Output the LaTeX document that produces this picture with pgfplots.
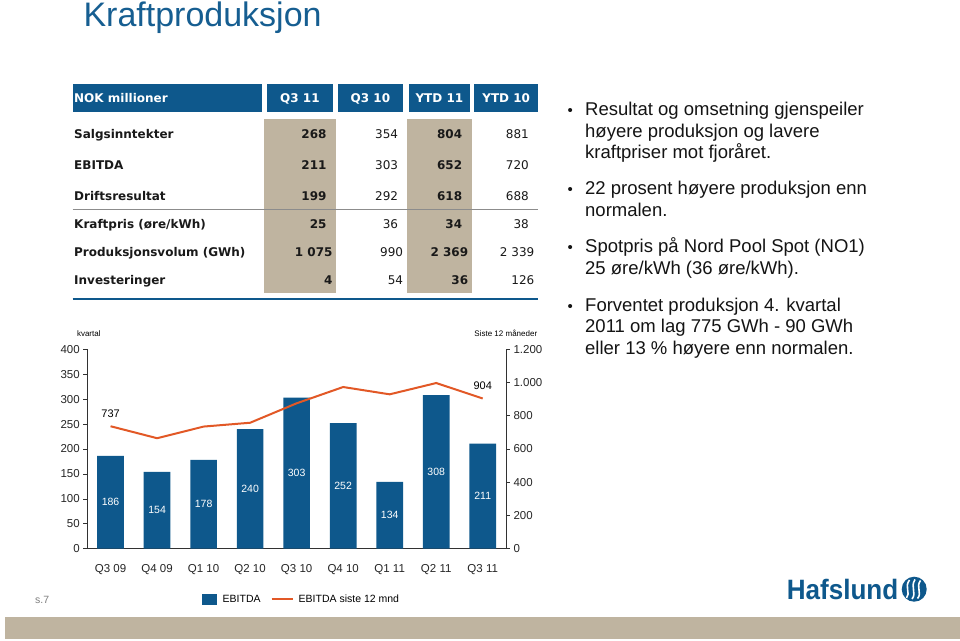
\documentclass[border=0pt]{standalone}
\usepackage{pgfplots}
\pgfplotsset{compat=1.18}
\usepackage{fontspec}
\setmainfont{Liberation Sans}
\newfontfamily\verd{DejaVu Sans}
\definecolor{hblue}{RGB}{14,88,140}
\definecolor{titleblue}{RGB}{22,94,145}
\definecolor{lineorange}{RGB}{226,88,38}
\definecolor{beige}{RGB}{191,180,160}
\definecolor{axisgray}{RGB}{50,50,50}
\begin{document}
\begin{tikzpicture}
\begin{scope}[x=1pt,y=1pt]
\useasboundingbox (0,0) rectangle (960,640);
\fill[white] (0,0) rectangle (960,640);
% title
\node[anchor=base west,inner sep=0,text=titleblue,font=\fontsize{34}{40}\selectfont] at (83.3,613.3) {Kraftproduksjon};
% table
\fill[beige] (264,521) rectangle (336,347);
\fill[beige] (406.7,521) rectangle (472,347);
\fill[hblue] (72.7,556) rectangle (262,527.7);
\fill[hblue] (266.7,556) rectangle (333,527.7);
\fill[hblue] (337.7,556) rectangle (403,527.7);
\fill[hblue] (408.7,556) rectangle (470,527.7);
\fill[hblue] (474.3,556) rectangle (538,527.7);
\draw[black!45, line width=0.6pt] (72.7,430.7) -- (538,430.7);
\draw[hblue, line width=2pt] (72.7,341) -- (538,341);
\begin{scope}[every node/.style={inner sep=0, font=\verd\fontsize{12}{14}\selectfont, text=black!90}]
\node[anchor=base west,text=white] at (74,537.3) {\bfseries NOK millioner};
\node[anchor=base,text=white] at (299.9,537.3) {\bfseries Q3 11};
\node[anchor=base,text=white] at (370.4,537.3) {\bfseries Q3 10};
\node[anchor=base,text=white] at (439.4,537.3) {\bfseries YTD 11};
\node[anchor=base,text=white] at (506.2,537.3) {\bfseries YTD 10};
% rows
\node[anchor=base west] at (74,501.6) {\bfseries Salgsinntekter};
\node[anchor=base east] at (326.7,501.6) {\bfseries 268};
\node[anchor=base east] at (398.3,501.6) {354};
\node[anchor=base east] at (462.3,501.6) {\bfseries 804};
\node[anchor=base east] at (529,501.6) {881};
\node[anchor=base west] at (74,470.6) {\bfseries EBITDA};
\node[anchor=base east] at (326.7,470.6) {\bfseries 211};
\node[anchor=base east] at (398.3,470.6) {303};
\node[anchor=base east] at (462.3,470.6) {\bfseries 652};
\node[anchor=base east] at (529,470.6) {720};
\node[anchor=base west] at (74,439.6) {\bfseries Driftsresultat};
\node[anchor=base east] at (326.7,439.6) {\bfseries 199};
\node[anchor=base east] at (398.3,439.6) {292};
\node[anchor=base east] at (462.3,439.6) {\bfseries 618};
\node[anchor=base east] at (529,439.6) {688};
\node[anchor=base west] at (74,411.6) {\bfseries Kraftpris (øre/kWh)};
\node[anchor=base east] at (326.7,411.6) {\bfseries 25};
\node[anchor=base east] at (398.3,411.6) {36};
\node[anchor=base east] at (462.3,411.6) {\bfseries 34};
\node[anchor=base east] at (529,411.6) {38};
\node[anchor=base west] at (74,383.6) {\bfseries Produksjonsvolum (GWh)};
\node[anchor=base east] at (332.7,383.6) {\bfseries 1 075};
\node[anchor=base east] at (403.3,383.6) {990};
\node[anchor=base east] at (468.3,383.6) {\bfseries 2 369};
\node[anchor=base east] at (534.5,383.6) {2 339};
\node[anchor=base west] at (74,355.6) {\bfseries Investeringer};
\node[anchor=base east] at (332.7,355.6) {\bfseries 4};
\node[anchor=base east] at (403.3,355.6) {54};
\node[anchor=base east] at (468.3,355.6) {\bfseries 36};
\node[anchor=base east] at (534.5,355.6) {126};
\end{scope}
% bullets
\begin{scope}[every node/.style={inner sep=0, anchor=base west, font=\fontsize{18.5}{22}\selectfont, text=black!92}]
\node at (567.5,524.5) {\fontsize{15}{18}\selectfont •};
\node at (585,524.5) {Resultat og omsetning gjenspeiler};
\node at (585,502.8) {høyere produksjon og lavere};
\node at (585,481.1) {kraftpriser mot fjoråret.};
\node at (567.5,445.2) {\fontsize{15}{18}\selectfont •};
\node at (585,445.2) {22 prosent høyere produksjon enn};
\node at (585,423.5) {normalen.};
\node at (567.5,387.2) {\fontsize{15}{18}\selectfont •};
\node at (585,387.2) {Spotpris på Nord Pool Spot (NO1)};
\node at (585,365.5) {25 øre/kWh (36 øre/kWh).};
\node at (567.5,328.8) {\fontsize{15}{18}\selectfont •};
\node at (585,328.8) {Forventet produksjon 4. kvartal};
\node at (585,307.1) {2011 om lag 775 GWh - 90 GWh};
\node at (585,285.4) {eller 13 \% høyere enn normalen.};
\end{scope}
% legend
\fill[hblue] (201.7,35.5) rectangle (216.7,46.5);
\node[anchor=west, inner sep=0, font=\fontsize{10.5}{12}\selectfont] at (222.5,41) {EBITDA};
\draw[lineorange, line width=2pt] (271.7,41) -- (293.3,41);
\node[anchor=west, inner sep=0, font=\fontsize{10.5}{12}\selectfont] at (298.5,41) {EBITDA siste 12 mnd};
% footer
\node[anchor=west, inner sep=0, text=black!50, font=\fontsize{10.5}{12}\selectfont] at (35,40) {s.7};
\fill[beige] (5,1) rectangle (960,23.3);
% logo
\node[anchor=base west, inner sep=0, text=hblue, font=\bfseries\fontsize{28}{32}\selectfont] at (786.7,40.7) {\scalebox{0.93}[1]{Hafslund}};
\fill[hblue] (914.2,50.8) circle (12.5);
\draw[white, line width=1.6pt] (906.5,42) .. controls (911,47) and (904,53) .. (909.5,60);
\draw[white, line width=1.6pt] (912,41) .. controls (917,47) and (910,53) .. (915,60.5);
\draw[white, line width=1.6pt] (917.5,41.5) .. controls (922.5,47) and (915.5,53) .. (920.5,59.5);
\end{scope}
% chart axis 1 (bars)
\begin{axis}[
  at={(87.3pt,91.3pt)}, anchor=south west,
  scale only axis, width=418.7pt, height=199.4pt,
  xmin=-0.5, xmax=8.5, ymin=0, ymax=400,
  enlargelimits=false, clip=false,
  axis y line*=left, axis x line*=bottom,
  axis line style={-, axisgray, line width=0.8pt},
  xtick={0,...,8},
  xticklabels={Q3 09,Q4 09,Q1 10,Q2 10,Q3 10,Q4 10,Q1 11,Q2 11,Q3 11},
  x tick style={draw=none},
  ytick={0,50,...,400},
  scaled y ticks=false,
  tick align=outside, major tick length=4pt,
  y tick style={axisgray, line width=0.6pt},
  tick label style={font=\fontsize{11.5}{13}\selectfont, text=black!85},
  xticklabel style={yshift=-8pt},
  /pgf/number format/assume math mode=true,
]
\addplot[ybar, bar width=26.7pt, fill=hblue, draw=none] coordinates {
  (0,186) (1,154) (2,178) (3,240) (4,303) (5,252) (6,134) (7,308) (8,211)};
\begin{scope}[every node/.style={text=white, font=\fontsize{10.5}{12}\selectfont}]
\node at (axis cs:0,93) {186};
\node at (axis cs:1,77) {154};
\node at (axis cs:2,89) {178};
\node at (axis cs:3,120) {240};
\node at (axis cs:4,151.5) {303};
\node at (axis cs:5,126) {252};
\node at (axis cs:6,67) {134};
\node at (axis cs:7,154) {308};
\node at (axis cs:8,105.5) {211};
\end{scope}
\node[anchor=west, inner sep=0, font=\fontsize{8}{9}\selectfont] at (rel axis cs:-0.025,1.08) {kvartal};
\end{axis}
% chart axis 2 (line)
\begin{axis}[
  at={(87.3pt,91.3pt)}, anchor=south west,
  scale only axis, width=418.7pt, height=199.4pt,
  xmin=-0.5, xmax=8.5, ymin=0, ymax=1200,
  enlargelimits=false, clip=false,
  axis y line*=right, axis x line=none,
  axis line style={-, axisgray, line width=0.8pt},
  ytick={0,200,...,1200},
  scaled y ticks=false,
  yticklabel style={/pgf/number format/.cd, 1000 sep={.}},
  tick align=outside, major tick length=4pt,
  y tick style={axisgray, line width=0.6pt},
  tick label style={font=\fontsize{11.5}{13}\selectfont, text=black!85},
  /pgf/number format/assume math mode=true,
]
\addplot[lineorange, line width=2pt, mark=none] coordinates {
  (0,737) (1,665) (2,735) (3,758) (4,875) (5,973) (6,929) (7,997) (8,904)};
\node[font=\fontsize{11}{13}\selectfont, yshift=13pt] at (axis cs:0,737) {737};
\node[font=\fontsize{11}{13}\selectfont, yshift=13pt] at (axis cs:8,904) {904};
\node[anchor=east, inner sep=0, font=\fontsize{8}{9}\selectfont] at (rel axis cs:1.075,1.08) {Siste 12 måneder};
\end{axis}
\end{tikzpicture}
\end{document}
